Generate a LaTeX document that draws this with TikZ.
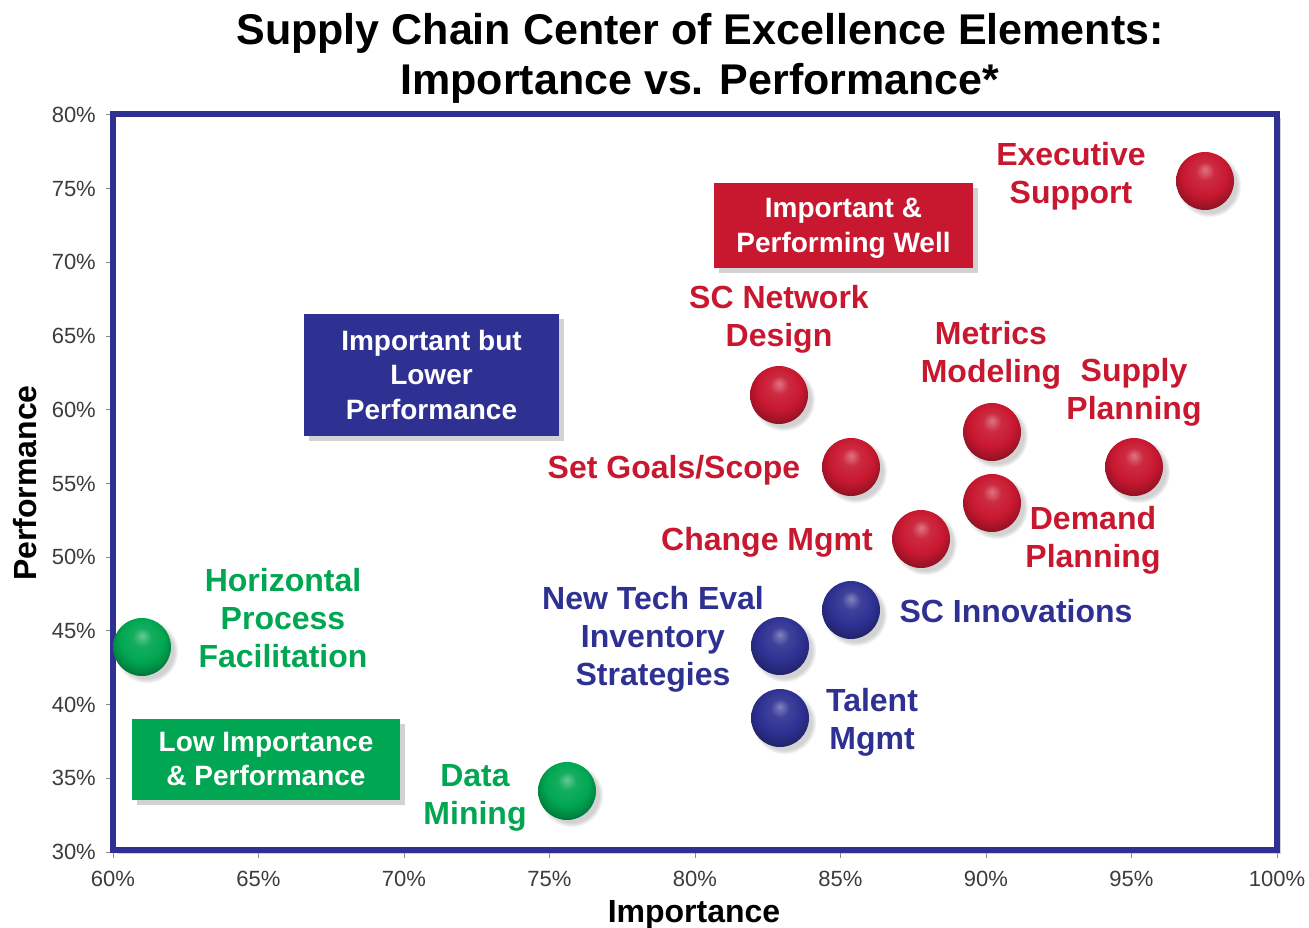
\documentclass[tikz,border=0pt]{standalone}
\usepackage{fontspec}
\setmainfont{Liberation Sans}
\usetikzlibrary{shadows,positioning}
\definecolor{scred}{RGB}{200,24,48}
\definecolor{scblue}{RGB}{46,49,146}
\definecolor{scgreen}{RGB}{0,166,81}
\definecolor{ticktext}{RGB}{60,60,60}
\definecolor{tickgray}{RGB}{140,140,140}

\makeatletter
\pgfdeclareradialshading[tikz@ball]{sphere}{\pgfpoint{0bp}{10bp}}{%
  color(0bp)=(tikz@ball!60!white); color(8bp)=(tikz@ball!92!white);
  color(19bp)=(tikz@ball); color(27bp)=(tikz@ball!78!black);
  color(35bp)=(tikz@ball!45!black); color(50bp)=(tikz@ball!45!black)}
\makeatother

\newcommand{\titlefont}{\fontsize{43}{50}\selectfont\bfseries}
\newcommand{\lblfont}{\fontsize{32}{38}\selectfont\bfseries}
\newcommand{\boxfont}{\fontsize{28}{34.5}\selectfont\bfseries}
\newcommand{\tickfont}{\fontsize{22}{26}\selectfont}

\begin{document}
\begin{tikzpicture}[
    x=1pt, y=-1pt,
    ball/.style={circle, inner sep=0pt, minimum size=58pt,
        circular drop shadow={shadow xshift=4pt, shadow yshift=-4pt, opacity=0.35}},
    redball/.style={ball, ball color=scred, shading=sphere},
    blueball/.style={ball, ball color=scblue, shading=sphere},
    greenball/.style={ball, ball color=scgreen, shading=sphere},
    lbl/.style={font=\lblfont, align=center, inner sep=0pt, text depth=0pt},
    redlbl/.style={lbl, text=scred},
    bluelbl/.style={lbl, text=scblue},
    greenlbl/.style={lbl, text=scgreen},
    quadbox/.style={rectangle, font=\boxfont, align=center, text=white, inner sep=0pt,
        text depth=0pt, drop shadow={shadow xshift=5pt, shadow yshift=-5pt, opacity=0.35}},
    redbox/.style={quadbox, fill=scred},
    bluebox/.style={quadbox, fill=scblue},
    greenbox/.style={quadbox, fill=scgreen},
    tickline/.style={tickgray, line width=1pt},
    ticklbl/.style={font=\tickfont, text=ticktext, inner sep=0pt}
]
\useasboundingbox (0,0) rectangle (1309,928);

% Title
\node[font=\titlefont, align=center, text depth=0pt] (title) at (700,54)
    {Supply Chain Center of Excellence Elements:\\Importance vs. Performance*};

% Plot frame
\fill[white, drop shadow={shadow xshift=4pt, shadow yshift=-4pt, opacity=0.35}]
    (113,114) rectangle (1277,850);
\draw[scblue, line width=6pt] (113,114) rectangle (1277,850);

% Axis ticks and labels
\foreach \v [evaluate=\v as \py using 852-(\v-30)*14.74] in {30,35,...,80} {
    \draw[tickline] (106,\py) -- (110,\py);
    \node[ticklbl, anchor=east] (ytick\v) at (96,\py) {\v\%};
}
\foreach \v [evaluate=\v as \px using 113+(\v-60)*29.1] in {60,65,...,100} {
    \draw[tickline] (\px,853) -- (\px,858);
    \node[ticklbl] (xtick\v) at (\px,879) {\v\%};
}

% Axis titles
\node[font=\lblfont, text depth=0pt] (xtitle) at (694,911) {Importance};
\node[font=\lblfont, rotate=90] (ytitle) at (25,483) {Performance};

% Quadrant boxes
\node[redbox, minimum width=259pt, minimum height=85pt] (qwell) at (843.5,225.5)
    {Important \&\\Performing Well};
\node[bluebox, minimum width=255pt, minimum height=122pt] (qlower) at (431.5,374.5)
    {Important but\\Lower\\Performance};
\node[greenbox, minimum width=268pt, minimum height=81pt] (qlow) at (266,759)
    {Low Importance\\\& Performance};

% Red bubbles
\node[redball] (exec) at (1205,181) {};
\node[redball] (scnet) at (779,395) {};
\node[redball] (goals) at (851,467) {};
\node[redball] (metrics) at (992,432) {};
\node[redball] (supply) at (1134,467) {};
\node[redball] (demand) at (992,503) {};
\node[redball] (change) at (921,539) {};

% Blue bubbles
\node[blueball] (innov) at (851,610) {};
\node[blueball] (newtech) at (780,646) {};
\node[blueball] (talent) at (780,718) {};

% Green bubbles
\node[greenball] (horiz) at (142,647) {};
\node[greenball] (mining) at (567,791) {};

% Red labels
\node[redlbl] (exec-lbl) at (1071,173) {Executive\\Support};
\node[redlbl] (scnet-lbl) at (779,316) {SC Network\\Design};
\node[redlbl] (metrics-lbl) at (991,352) {Metrics\\Modeling};
\node[redlbl] (supply-lbl) at (1134,389) {Supply\\Planning};
\node[redlbl] (goals-lbl) at (674,467) {Set Goals/Scope};
\node[redlbl] (demand-lbl) at (1093,537) {Demand\\Planning};
\node[redlbl] (change-lbl) at (767,539) {Change Mgmt};

% Blue labels
\node[bluelbl] (innov-lbl) at (1016,611) {SC Innovations};
\node[bluelbl] (newtech-lbl) at (653,636) {New Tech Eval\\Inventory\\Strategies};
\node[bluelbl] (talent-lbl) at (872,719) {Talent\\Mgmt};

% Green labels
\node[greenlbl] (horiz-lbl) at (283,618) {Horizontal\\Process\\Facilitation};
\node[greenlbl] (mining-lbl) at (475,794) {Data\\Mining};

\end{tikzpicture}
\end{document}
